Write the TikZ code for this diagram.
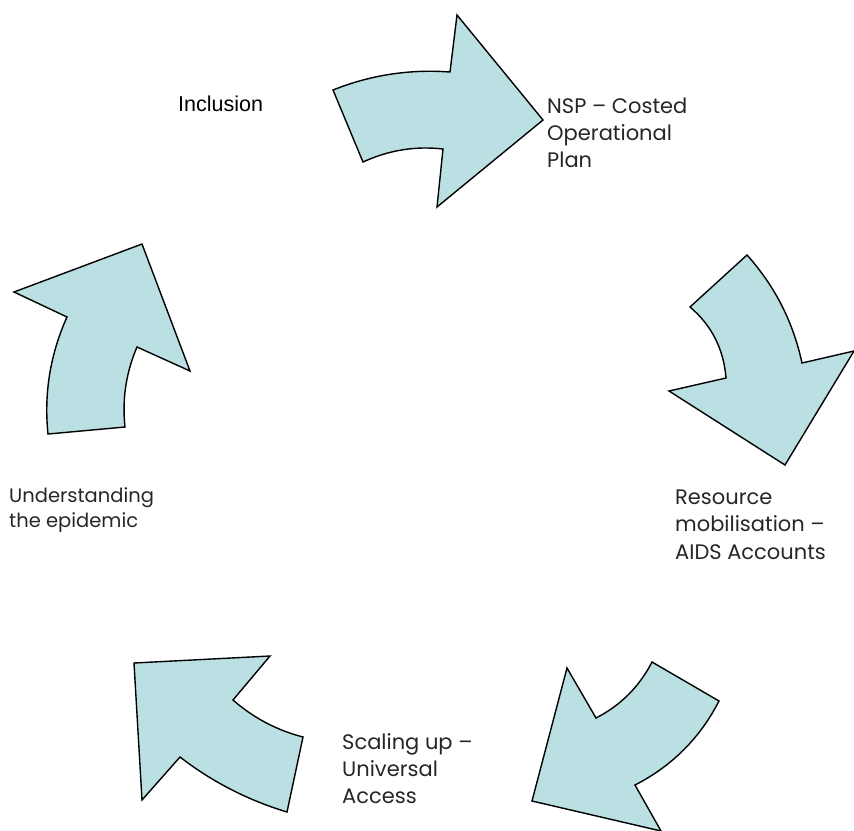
\documentclass[tikz,border=0pt]{standalone}
\usepackage{fontspec}
\usetikzlibrary{calc}
\setmainfont{Poppins}
\newfontfamily\arialfont{Liberation Sans}
\definecolor{arrowfill}{RGB}{186,224,227}
% smooth bow from #1 to #3 that leans towards the point #2
\newcommand{\bow}[3]{.. controls ($(#1)!2/3!(#2)$) and ($(#3)!2/3!(#2)$) .. (#3)}
\begin{document}
\begin{tikzpicture}[x=1pt,y=-1pt,
  blockarrow/.style={draw=black,line width=1.4pt,line join=miter,fill=arrowfill},
  label/.style={anchor=base west,inner sep=0pt,align=left,
    font=\fontsize{21}{26.7}\selectfont,text=black!85}]
\useasboundingbox (0,0) rectangle (854,830);

% curved block arrows running round the cycle
\path[blockarrow] (333,90) \bow{333,90}{389.25,67.5}{450,72} -- (457,15) -- (543,120)
  -- (437,207) -- (443,149) \bow{443,149}{401.5,144.25}{363,162} -- cycle;
\path[blockarrow] (690,307) -- (747,255) \bow{747,255}{788.75,301.5}{802,363} -- (854,351)
  -- (785,465) -- (669,391) -- (726,378) \bow{726,378}{722.5,334.5}{690,307} -- cycle;
\path[blockarrow] (652,662) -- (719,701) \bow{719,701}{690.5,756.5}{635,785} -- (661,831)
  -- (532,801) -- (567,668) -- (596,718) \bow{596,718}{633,699}{652,662} -- cycle;
\path[blockarrow] (134,663) -- (270,656) -- (233,700) \bow{233,700}{263.5,726.75}{303,737}
  -- (287,812) \bow{287,812}{228.25,794.25}{180,757} -- (142,800) -- cycle;
\path[blockarrow] (48,434) \bow{48,434}{41.75,373.25}{67,317} -- (14,292) -- (142,244)
  -- (190,371) -- (137,347) \bow{137,347}{120.5,385.5}{125,427} -- cycle;

% stage labels (each node sits on the baseline of its last line)
\node[anchor=base west,inner sep=0pt,font=\arialfont\fontsize{21.5}{26}\selectfont]
  (inclusion) at (178,111.7) {Inclusion};
\node[label] (nsp) at (547,167) {NSP – Costed\\Operational\\Plan};
\node[label,font=\fontsize{21}{27.5}\selectfont] (resource) at (675,559)
  {Resource\\mobilisation –\\AIDS Accounts};
\node[label,font=\fontsize{19.5}{24.5}\selectfont] (understanding) at (9,527)
  {Understanding\\the epidemic};
\node[label] (scaling) at (342,803) {Scaling up –\\Universal\\Access};
\end{tikzpicture}
\end{document}
